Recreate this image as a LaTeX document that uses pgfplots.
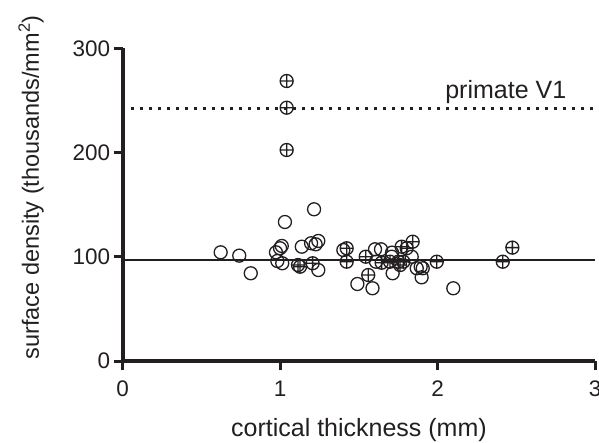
\documentclass[border=0pt]{standalone}
\usepackage{fontspec}
\setmainfont{Liberation Sans}
\usepackage{pgfplots}
\pgfplotsset{compat=1.18}
\definecolor{ink}{RGB}{35,31,32}
\begin{document}
\begin{tikzpicture}
\begin{axis}[
 x=157.5pt, y=1.042pt,
 xmin=0,xmax=3,ymin=0,ymax=300,
 axis x line*=bottom, axis y line*=left,
 axis line style={line width=4pt, ink},
 xtick={0,1,2,3}, ytick={0,100,200,300},
 tick align=outside, major tick length=9pt,
 tick style={line width=3pt, ink},
 /pgf/number format/assume math mode=true,
 ticklabel style={font=\fontsize{22.5}{26}\selectfont, text=ink},
 xticklabel style={yshift=-7pt},
 xlabel={cortical thickness (mm)},
 ylabel={surface density (thousands/mm\textsuperscript{2})},
 every axis x label/.style={at={(rel axis cs:0.5,-0.2207)}, anchor=center, font=\fontsize{25}{30}\selectfont, text=ink},
 every axis y label/.style={at={(rel axis cs:-0.194,0.555)}, anchor=center, rotate=90, font=\fontsize{23.5}{28}\selectfont, text=ink},
 clip=false,
]
\addplot[ink, line width=1.4pt] coordinates {(0,97) (3,97)};
\addplot[ink, line width=3pt, dash pattern=on 3pt off 6pt] coordinates {(0.05,242) (3,242)};
\addplot[only marks, mark=o, mark size=6.5pt, ink, mark options={line width=1.3pt}] coordinates {
(0.622,104.3) (0.740,101.1) (0.813,84.2) (1.030,133.4) (1.215,145.6) (0.973,104.3) (1.010,110.4) (0.999,108.2) (0.982,96.0) (1.013,93.8) (1.137,109.7) (1.196,113.0) (1.225,112.0) (1.242,115.2) (1.242,87.3) (1.401,106.5) (1.490,73.9) (1.586,69.8) (1.602,107.2) (1.640,107.2) (1.608,95.3) (1.708,100.1) (1.714,84.2) (1.835,100.1) (1.867,89.0) (1.892,90.5) (1.905,89.0) (1.898,80.3) (2.099,69.8) (1.71,104)
};
\addplot[only marks, mark=oplus, mark size=6.5pt, ink, mark options={line width=1.3pt, fill opacity=0}] coordinates {
(1.041,268.7) (1.041,243.1) (1.041,202.5) (1.113,92.1) (1.126,90.5) (1.206,93.8) (1.422,108.2) (1.422,95.3) (1.543,100.1) (1.559,82.5) (1.644,94.3) (1.697,95.3) (1.750,95.3) (1.761,92.1) (1.782,95.3) (1.771,109.7) (1.803,108.2) (1.841,114.5) (1.994,95.3) (2.413,95.3) (2.474,108.8)
};
\node[font=\fontsize{25}{30}\selectfont, text=ink, anchor=base, inner sep=0pt] at (axis cs:2.432,252.1) {primate V1};
\coordinate (o) at (axis cs:0,0);
\end{axis}
\pgfresetboundingbox
\path[use as bounding box] (o) ++(-122.7pt,-81pt) rectangle ++(599pt,442pt);
\end{tikzpicture}
\end{document}
